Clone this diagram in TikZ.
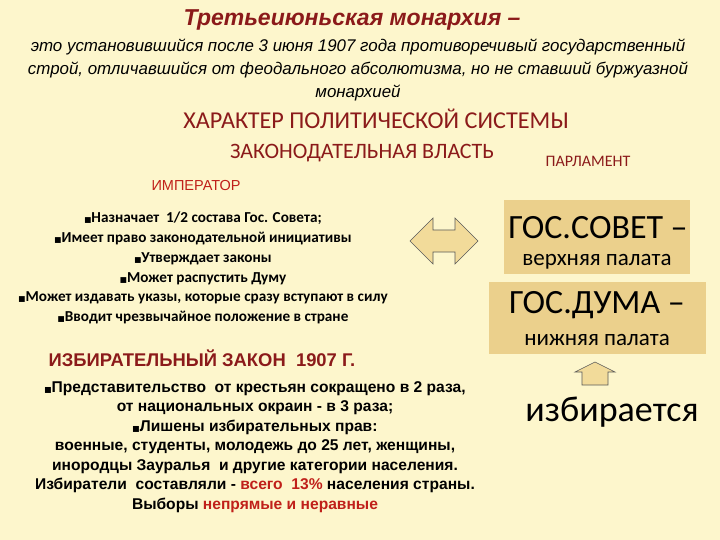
\documentclass[tikz,border=0pt]{standalone}
\usepackage{fontspec}
\setmainfont{Liberation Sans}
\newfontfamily\carfont{Carlito}
\newfontfamily\djfont{DejaVu Sans}
\definecolor{bg}{HTML}{FDF6CC}
\definecolor{dred}{HTML}{8B1A1A}
\definecolor{rred}{HTML}{C0201A}
\definecolor{tan}{HTML}{EBD08C}
\definecolor{arrowf}{HTML}{F2DB9A}
\newcommand{\blt}{{\djfont\scalebox{0.5}{■}}}
\begin{document}
\begin{tikzpicture}[x=1pt,y=-1pt,
  t/.style={inner sep=0pt,align=center},
  bltxt/.style={t,font=\carfont\bfseries\fontsize{15.2}{19.8}\selectfont},
  low/.style={t,font=\bfseries\fontsize{15.6}{19.5}\selectfont},
  box/.style={fill=tan,draw=none,inner sep=0pt},
  arr/.style={fill=arrowf,draw=gray!70!black,line width=0.6pt}]
\fill[bg] (0,0) rectangle (720,540);
\useasboundingbox (0,0) rectangle (720,540);
\node[t,font=\bfseries\itshape\fontsize{23}{26}\selectfont,text=dred] (title) at (352,20) {Третьеиюньская монархия –};
\node[t,font=\itshape\fontsize{16.9}{23}\selectfont] (sub) at (358,70) {это установившийся после 3 июня 1907 года противоречивый государственный\\строй, отличавшийся от феодального абсолютизма, но не ставший буржуазной\\монархией};
\node[t,font=\carfont\fontsize{24.2}{26}\selectfont,text=dred] (har) at (376,119) {ХАРАКТЕР ПОЛИТИЧЕСКОЙ СИСТЕМЫ};
\node[t,font=\carfont\fontsize{22}{24}\selectfont,text=dred] (zak) at (362,153) {ЗАКОНОДАТЕЛЬНАЯ ВЛАСТЬ};
\node[t,font=\carfont\fontsize{16}{18}\selectfont,text=dred] (parl) at (588,161) {ПАРЛАМЕНТ};
\node[t,font=\fontsize{14.5}{16}\selectfont,text=rred] (imp) at (196,186) {ИМПЕРАТОР};
\node[bltxt] (list) at (203,268) {\blt Назначает \ 1/2 состава Гос. Совета;\\\blt Имеет право законодательной инициативы\\\blt Утверждает законы\\\blt Может распустить Думу\\\blt Может издавать указы, которые сразу вступают в силу\\\blt Вводит чрезвычайное положение в стране};
\draw[arr] (410,241) -- (433,218) -- (433,230) -- (455,230) -- (455,218) -- (478,241) -- (455,264) -- (455,252) -- (433,252) -- (433,264) -- cycle;
\node[box,minimum width=186pt,minimum height=74pt] (sov) at (597,237) {};
\node[t,font=\carfont\fontsize{34}{36}\selectfont] (sovt) at (598,228) {ГОС.СОВЕТ –};
\node[t,font=\carfont\fontsize{23}{25}\selectfont] (sovb) at (597,262) {верхняя палата};
\node[box,minimum width=217pt,minimum height=72pt] (dum) at (597.5,318) {};
\node[t,font=\carfont\fontsize{34}{36}\selectfont] (dumt) at (597,305) {ГОС.ДУМА –};
\node[t,font=\carfont\fontsize{23}{25}\selectfont] (dumb) at (597,340) {нижняя палата};
\draw[arr] (582,385) -- (582,372) -- (575,372) -- (595,362) -- (615,372) -- (608,372) -- (608,385) -- cycle;
\node[t,font=\carfont\fontsize{36}{38}\selectfont] (izb) at (612,412) {избирается};
\node[t,font=\bfseries\fontsize{18.4}{20}\selectfont,text=dred] (zakon) at (202,358) {ИЗБИРАТЕЛЬНЫЙ ЗАКОН \ 1907 Г.};
\node[low] (lower) at (255,447) {\blt Представительство \ от крестьян сокращено в 2 раза,\\от национальных окраин - в 3 раза;\\\blt Лишены избирательных прав:\\военные, студенты, молодежь до 25 лет, женщины,\\инородцы Зауралья \ и другие категории населения.\\Избиратели \ составляли - \textcolor{rred}{всего \ 13\%} населения страны.\\Выборы \textcolor{rred}{непрямые и неравные}};
\end{tikzpicture}
\end{document}
